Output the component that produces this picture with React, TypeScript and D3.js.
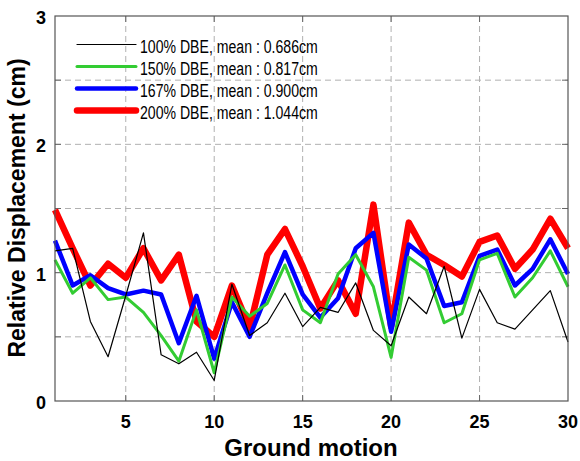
import { useEffect, useRef } from 'react';
import * as d3 from 'd3';

// ground motion index 1..30
const motions = d3.range(1, 31);

const dbe100 = [1.17, 1.19, 0.62, 0.345, 0.82, 1.31, 0.36, 0.29, 0.38, 0.16,
    0.91, 0.51, 0.61, 0.84, 0.58, 0.73, 0.69, 0.92, 0.55, 0.43,
    0.81, 0.68, 1.05, 0.49, 0.87, 0.61, 0.56, 0.71, 0.86, 0.46];
const dbe150 = [1.10, 0.84, 0.96, 0.79, 0.81, 0.69, 0.51, 0.31, 0.71, 0.22,
    0.81, 0.66, 0.76, 1.06, 0.71, 0.61, 0.99, 1.14, 0.89, 0.34,
    1.12, 1.02, 0.61, 0.68, 1.10, 1.15, 0.81, 0.96, 1.17, 0.89];
const dbe167 = [1.25, 0.90, 0.98, 0.88, 0.83, 0.86, 0.83, 0.45, 0.82, 0.33,
    0.77, 0.50, 0.84, 1.16, 0.83, 0.65, 0.80, 1.19, 1.31, 0.54,
    1.22, 1.11, 0.74, 0.77, 1.13, 1.18, 0.90, 1.03, 1.26, 0.99];
const dbe200 = [1.49, 1.19, 0.90, 1.07, 0.96, 1.19, 0.94, 1.14, 0.62, 0.50,
    0.90, 0.57, 1.14, 1.34, 1.05, 0.72, 0.94, 0.68, 1.53, 0.58,
    1.39, 1.14, 1.06, 0.97, 1.24, 1.29, 1.03, 1.18, 1.42, 1.19];

const legendLabels = [
    '100% DBE, mean : 0.686cm',
    '150% DBE, mean : 0.817cm',
    '167% DBE, mean : 0.900cm',
    '200% DBE, mean : 1.044cm'
];

const xTicks = [5, 10, 15, 20, 25, 30];
const yTicks = [0, 0.5, 1, 1.5, 2, 2.5, 3];

const series = [
    { values: dbe100, color: '#000000', width: 1.2 },
    { values: dbe150, color: '#33cc33', width: 3 },
    { values: dbe167, color: '#0000ff', width: 4.5 },
    { values: dbe200, color: '#ff0000', width: 6.5 }
];

function App() {
    const ref = useRef<SVGSVGElement>(null);

    useEffect(() => {
        const svg = d3.select(ref.current);
        svg.selectAll('*').remove();

        const left = 55, right = 568, top = 16, bottom = 401;
        const x = d3.scaleLinear().domain([1, 30]).range([left, right]);
        const y = d3.scaleLinear().domain([0, 3]).range([bottom, top]);

        // grid
        const grid = svg.append('g')
            .attr('stroke', '#b0b0b0')
            .attr('stroke-width', 1)
            .attr('stroke-dasharray', '6,4');
        xTicks.filter(t => t < 30).forEach(t => {
            grid.append('line')
                .attr('x1', x(t)).attr('x2', x(t))
                .attr('y1', top).attr('y2', bottom);
        });
        yTicks.filter(t => t > 0 && t < 3).forEach(t => {
            grid.append('line')
                .attr('x1', left).attr('x2', right)
                .attr('y1', y(t)).attr('y2', y(t));
        });

        // tick marks
        const tk = svg.append('g').attr('stroke', '#666').attr('stroke-width', 1);
        xTicks.filter(t => t < 30).forEach(t => {
            tk.append('line').attr('x1', x(t)).attr('x2', x(t)).attr('y1', bottom).attr('y2', bottom - 6);
            tk.append('line').attr('x1', x(t)).attr('x2', x(t)).attr('y1', top).attr('y2', top + 6);
        });
        yTicks.filter(t => t > 0 && t < 3).forEach(t => {
            tk.append('line').attr('x1', left).attr('x2', left + 6).attr('y1', y(t)).attr('y2', y(t));
            tk.append('line').attr('x1', right).attr('x2', right - 6).attr('y1', y(t)).attr('y2', y(t));
        });

        // lines, thickest first
        const line = d3.line<number>()
            .x((d, i) => x(motions[i]))
            .y(d => y(d));
        [...series].reverse().forEach(s => {
            svg.append('path')
                .datum(s.values)
                .attr('d', line)
                .attr('fill', 'none')
                .attr('stroke', s.color)
                .attr('stroke-width', s.width)
                .attr('stroke-linejoin', 'round');
        });

        // frame
        svg.append('rect')
            .attr('x', left).attr('y', top)
            .attr('width', right - left).attr('height', bottom - top)
            .attr('fill', 'none')
            .attr('stroke', '#555')
            .attr('stroke-width', 1.2);

        // tick labels
        const font = 'Arial, "Liberation Sans", sans-serif';
        xTicks.forEach(t => {
            svg.append('text')
                .attr('x', x(t)).attr('y', 428)
                .attr('text-anchor', 'middle')
                .attr('font-family', font).attr('font-weight', 'bold').attr('font-size', 18)
                .text(t);
        });
        yTicks.filter(t => Number.isInteger(t)).forEach(t => {
            svg.append('text')
                .attr('x', 46).attr('y', y(t) + 8)
                .attr('text-anchor', 'end')
                .attr('font-family', font).attr('font-weight', 'bold').attr('font-size', 18)
                .text(t);
        });

        // axis labels
        svg.append('text')
            .attr('x', 311).attr('y', 456)
            .attr('text-anchor', 'middle')
            .attr('font-family', font).attr('font-weight', 'bold').attr('font-size', 24)
            .text('Ground motion');
        svg.append('text')
            .attr('transform', 'translate(25,208) rotate(-90)')
            .attr('text-anchor', 'middle')
            .attr('font-family', font).attr('font-weight', 'bold').attr('font-size', 23)
            .text('Relative Displacement (cm)');

        // legend
        const lg = svg.append('g');
        series.forEach((s, i) => {
            const ly = 44.5 + i * 22;
            lg.append('line')
                .attr('x1', 77).attr('x2', 136)
                .attr('y1', ly).attr('y2', ly)
                .attr('stroke', s.color)
                .attr('stroke-width', s.width)
                .attr('stroke-linecap', 'round');
            lg.append('text')
                .attr('transform', `translate(140,${ly + 8}) scale(0.94,1.17)`)
                .attr('font-family', font).attr('font-size', 15)
                .text(legendLabels[i]);
        });
    }, []);

    return (
        <svg ref={ref} width={580} height={461}
            style={{ position: 'absolute', left: 0, top: 0, background: '#fff' }} />
    );
}

export default App;
